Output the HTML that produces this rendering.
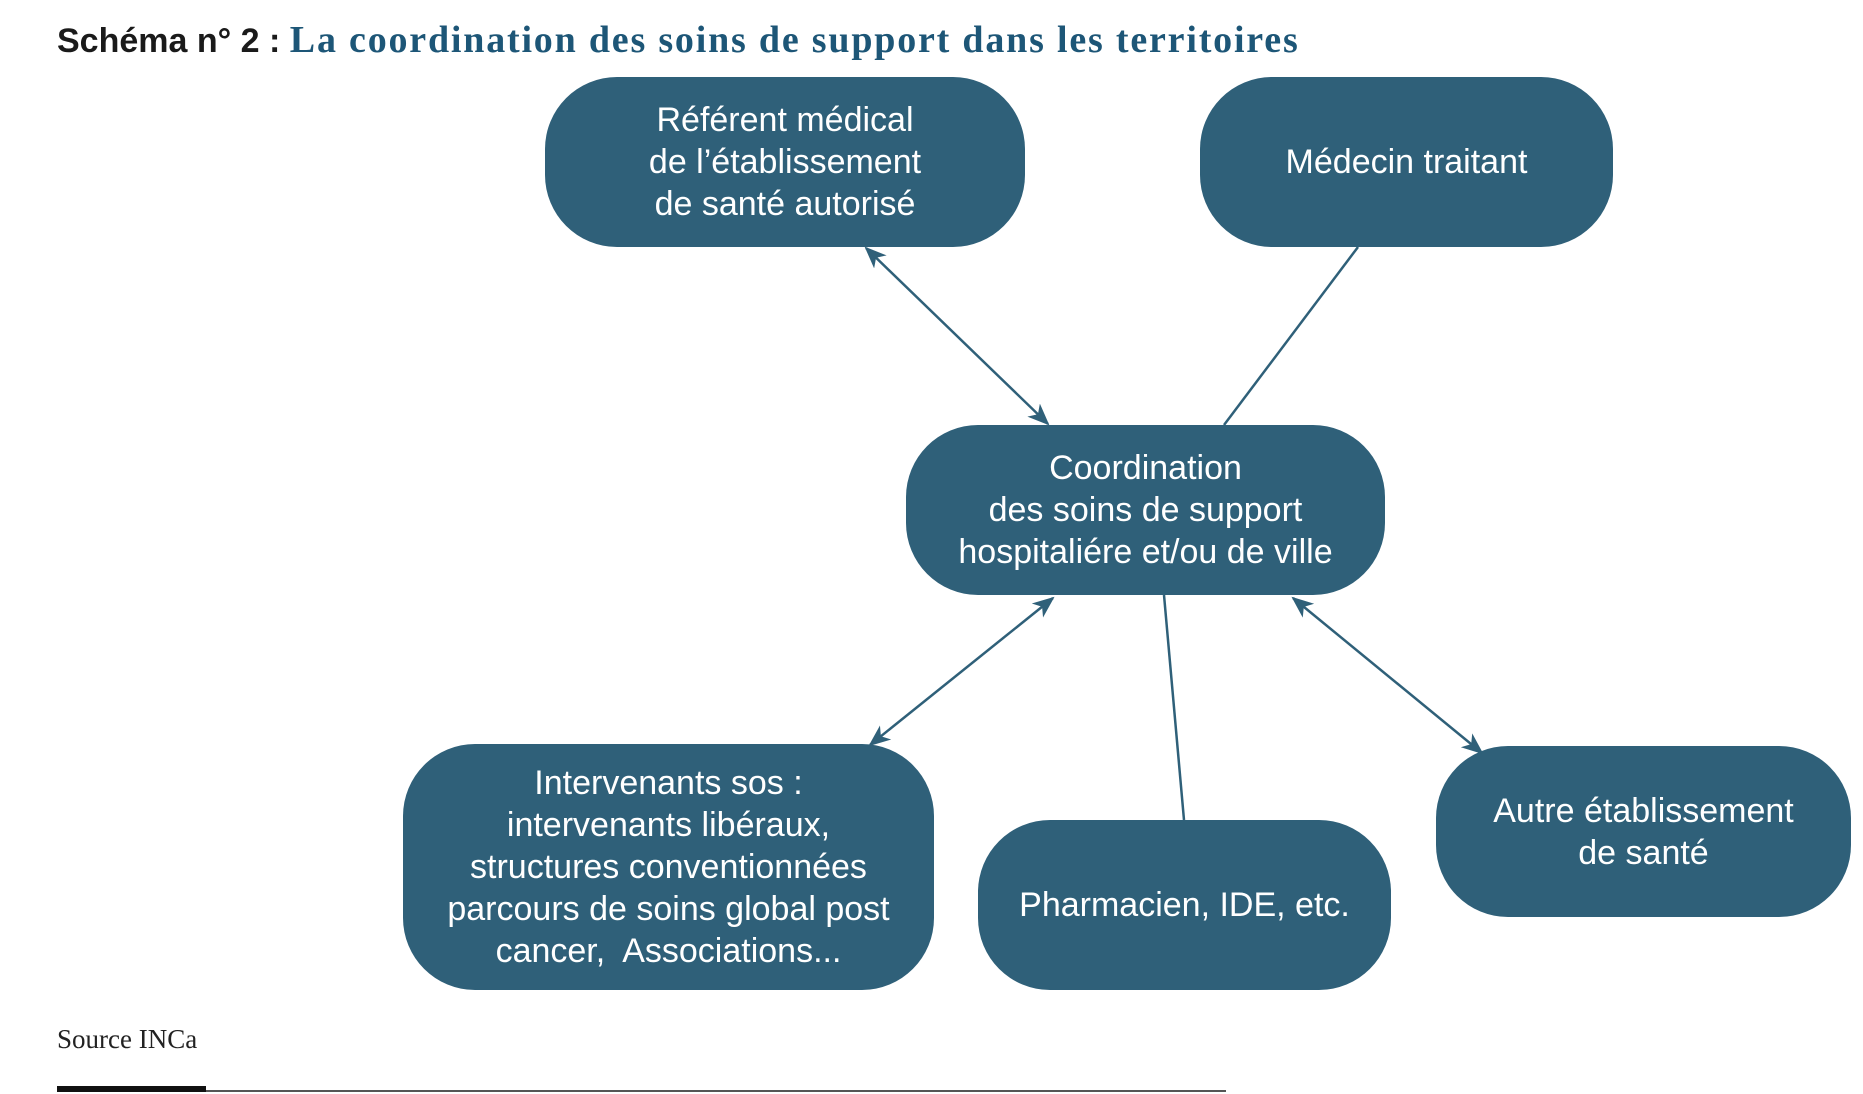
<!DOCTYPE html>
<html><head><meta charset="utf-8"><style>
body{margin:0;width:1863px;height:1094px;background:#fff;position:relative;overflow:hidden;font-family:"Liberation Sans",sans-serif}
.b{position:absolute;background:#2f6079;border-radius:72px;color:#fff;display:flex;align-items:center;justify-content:center;text-align:center;font-size:34px;line-height:42px;white-space:nowrap}
</style></head><body>
<div style="position:absolute;left:57px;top:18px;font-size:34px;font-weight:bold;white-space:nowrap;color:#1a1a1a">Schéma n° 2 : <span style="font-family:'Liberation Serif',serif;color:#1d5677;font-size:38px;letter-spacing:1.8px">La coordination des soins de support dans les territoires</span></div>
<svg width="1863" height="1094" style="position:absolute;left:0;top:0">
<defs><marker id="a" markerWidth="22" markerHeight="22" refX="20" refY="11" orient="auto-start-reverse" markerUnits="userSpaceOnUse" viewBox="0 0 22 22"><path d="M0,2 L22,11 L0,20 L6,11z" fill="#2f6079"/></marker></defs>
<g stroke="#2f6079" stroke-width="2.5" fill="none">
<line x1="866" y1="248" x2="1048" y2="424" marker-start="url(#a)" marker-end="url(#a)"/>
<line x1="1358" y1="247" x2="1224" y2="425"/>
<line x1="1053" y1="598" x2="870" y2="745" marker-start="url(#a)" marker-end="url(#a)"/>
<line x1="1164" y1="595" x2="1184" y2="820"/>
<line x1="1293" y1="598" x2="1482" y2="753" marker-start="url(#a)" marker-end="url(#a)"/>
</g></svg>
<div class="b" style="left:545px;top:77px;width:480px;height:170px">Référent médical<br>de l’établissement<br>de santé autorisé</div>
<div class="b" style="left:1200px;top:77px;width:413px;height:170px">Médecin traitant</div>
<div class="b" style="left:906px;top:425px;width:479px;height:170px">Coordination<br>des soins de support<br>hospitaliére et/ou de ville</div>
<div class="b" style="left:403px;top:744px;width:531px;height:246px">Intervenants sos :<br>intervenants libéraux,<br>structures conventionnées<br>parcours de soins global post<br>cancer,&nbsp; Associations...</div>
<div class="b" style="left:978px;top:820px;width:413px;height:170px">Pharmacien, IDE, etc.</div>
<div class="b" style="left:1436px;top:746px;width:415px;height:171px">Autre établissement<br>de santé</div>
<div style="position:absolute;left:57px;top:1024px;font-family:'Liberation Serif',serif;font-size:27px;color:#222">Source INCa</div>
<div style="position:absolute;left:57px;top:1086px;width:149px;height:6px;background:#111"></div>
<div style="position:absolute;left:206px;top:1090px;width:1020px;height:2px;background:#555"></div>
</body></html>
